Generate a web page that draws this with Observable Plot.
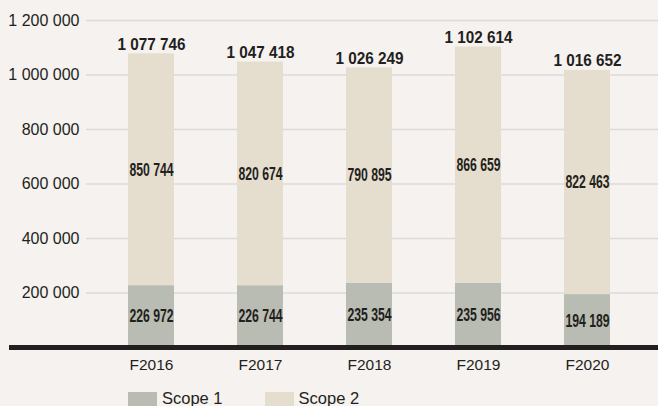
<!DOCTYPE html>
<html>
<head>
<meta charset="utf-8">
<script src="https://cdn.jsdelivr.net/npm/d3@7"></script>
<script src="https://cdn.jsdelivr.net/npm/@observablehq/plot@0.6"></script>
<style>
  html, body { margin: 0; padding: 0; background: #f5f2ef; }
  body { width: 658px; height: 406px; overflow: hidden; font-family: "Liberation Sans", Arial, sans-serif; }
  #legend { display: flex; align-items: flex-start; padding-left: 128px; height: 26px; margin-top: 11px; font-size: 16.5px; color: #231f20; }
  .item { display: flex; align-items: flex-start; margin-right: 42px; }
  .sw { width: 29px; height: 16px; margin-right: 5px; margin-top: 1px; }
  .lab { line-height: 16px; margin-top: -1px; }
</style>
</head>
<body>
<div id="chart"></div>
<div id="legend"></div>
<script>
const years = ["F2016", "F2017", "F2018", "F2019", "F2020"];
const scope1 = [226972, 226744, 235354, 235956, 194189];
const scope2 = [850744, 820674, 790895, 866659, 822463];
const totals = [1077746, 1047418, 1026249, 1102614, 1016652];
const yTicks = [200000, 400000, 600000, 800000, 1000000, 1200000];
const seriesNames = ["Scope 1", "Scope 2"];
const seriesColors = ["#b9bcb2", "#e5ddcd"];

const fmt = d => d3.format(",")(d).replace(/,/g, " ");

const rows = [];
years.forEach((y, i) => {
  rows.push({year: y, series: seriesNames[0], value: scope1[i]});
  rows.push({year: y, series: seriesNames[1], value: scope2[i]});
});
const totalRows = years.map((y, i) => ({year: y, total: totals[i]}));

const plot = Plot.plot({
  width: 658,
  height: 380,
  marginLeft: 9,
  marginRight: 0,
  marginTop: 20,
  marginBottom: 33,
  style: {background: "#f5f2ef", fontFamily: "'Liberation Sans', Arial, sans-serif", color: "#231f20"},
  x: {domain: years, paddingInner: 0.578, paddingOuter: 0.766, align: 0.713, label: null},
  y: {domain: [0, 1200000], label: null},
  color: {domain: seriesNames, range: seriesColors},
  marks: [
    Plot.ruleY(yTicks, {stroke: "#dcdbda", strokeWidth: 1.6, insetLeft: 77}),
    Plot.barY(rows, Plot.stackY({x: "year", y: "value", fill: "series", z: "series"})),
    Plot.text(rows, Plot.stackY({x: "year", y: "value", z: "series", text: d => fmt(d.value),
      className: "inner-lab", fontWeight: "bold", fontSize: 18, fill: "#231f20"})),
    Plot.text(totalRows, {x: "year", y: "total", text: d => fmt(d.total), lineAnchor: "bottom", dy: -4,
      className: "total-lab", fontWeight: "bold", fontSize: 17, fill: "#231f20"}),
    Plot.ruleY([0], {stroke: "#231f20", strokeWidth: 5}),
    Plot.axisY(yTicks, {anchor: "left", tickSize: 0, tickPadding: 0, dx: 70, tickFormat: fmt, fontSize: 16, fill: "#231f20", label: null}),
    Plot.axisX({anchor: "bottom", tickSize: 0, tickPadding: 11, fontSize: 15.5, fill: "#231f20", label: null})
  ]
});
document.getElementById("chart").appendChild(plot);

// condensed look of the value labels
d3.select(plot).selectAll(".inner-lab text").each(function() {
  const t = this.getAttribute("transform") || "";
  this.setAttribute("transform", t + " scale(0.68,1)");
});
d3.select(plot).selectAll(".total-lab text").each(function() {
  const t = this.getAttribute("transform") || "";
  this.setAttribute("transform", t + " scale(0.9,1)");
});

const legend = document.getElementById("legend");
seriesNames.forEach((name, i) => {
  const item = document.createElement("div");
  item.className = "item";
  const sw = document.createElement("div");
  sw.className = "sw";
  sw.style.background = seriesColors[i];
  const lab = document.createElement("div");
  lab.className = "lab";
  lab.textContent = name;
  item.appendChild(sw);
  item.appendChild(lab);
  legend.appendChild(item);
});
</script>
</body>
</html>
